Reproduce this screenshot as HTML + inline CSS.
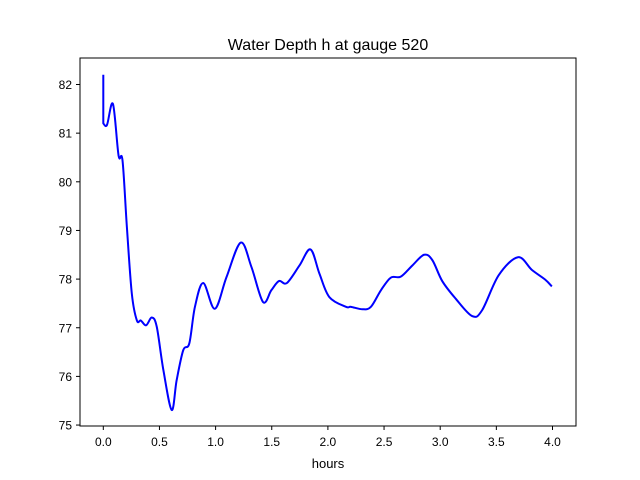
<!DOCTYPE html>
<html><head><meta charset="utf-8"><style>
body{margin:0;background:#fff;}
svg{display:block;font-family:"Liberation Sans","DejaVu Sans",sans-serif;}
</style></head><body>
<svg id="chart" width="640" height="480">
<rect width="640" height="480" fill="#fff"/>
<text x="328" y="50" text-anchor="middle" font-size="16">Water Depth h at gauge 520</text>
<g id="ticks"></g>
<path id="series" fill="none" stroke="#0000ff" stroke-width="2" stroke-linejoin="round"/>
<rect x="80" y="58" width="496" height="368" fill="none" stroke="#000" stroke-width="1"/>
<text x="328" y="468" text-anchor="middle" font-size="13">hours</text>
</svg>
<script>
const xTicks=[0,0.5,1.0,1.5,2.0,2.5,3.0,3.5,4.0];
const xTickLabels=["0.0","0.5","1.0","1.5","2.0","2.5","3.0","3.5","4.0"];
const yTicks=[75,76,77,78,79,80,81,82];
const yTickLabels=["75","76","77","78","79","80","81","82"];
const times=[0,0,0.033,0.086,0.136,0.171,0.21,0.254,0.299,0.334,0.381,0.432,0.476,0.535,0.609,0.653,0.712,0.766,0.816,0.89,0.993,1.097,1.224,1.319,1.422,1.496,1.564,1.635,1.747,1.845,1.925,2.013,2.161,2.205,2.309,2.383,2.472,2.56,2.649,2.752,2.856,2.93,3.018,3.137,3.284,3.373,3.521,3.692,3.816,3.935,3.994];
const depths=[82.2,81.2,81.17,81.6,80.54,80.44,79.07,77.7,77.15,77.15,77.05,77.21,77.02,76.13,75.31,75.92,76.54,76.68,77.43,77.92,77.39,78.04,78.75,78.25,77.53,77.77,77.96,77.92,78.28,78.61,78.11,77.63,77.43,77.43,77.38,77.43,77.77,78.03,78.05,78.28,78.5,78.39,77.96,77.6,77.24,77.36,78.08,78.45,78.19,77.99,77.85];
const X=t=>103.3+t*112.3;
const Y=h=>84.5+(82-h)*48.65;
const ns="http://www.w3.org/2000/svg";
const g=document.getElementById('ticks');
function mk(tag,attrs,txt){const e=document.createElementNS(ns,tag);for(const k in attrs)e.setAttribute(k,attrs[k]);if(txt!==undefined)e.textContent=txt;g.appendChild(e);return e;}
xTicks.forEach((t,i)=>{
 const l=mk('line',{x1:X(t),x2:X(t),y1:426,y2:430,stroke:'#000'});
 
 
 const tx=mk('text',{x:X(t),y:446,'text-anchor':'middle','font-size':'12'},xTickLabels[i]);
 
 
});
yTicks.forEach((v,i)=>{
 const l=mk('line',{x1:76,x2:80,y1:Y(v),y2:Y(v),stroke:'#000'});
 
 
 const tx=mk('text',{x:72,y:Y(v)+4.5,'text-anchor':'end','font-size':'12'},yTickLabels[i]);
 
 
});
const P=times.map((t,i)=>[X(t),Y(depths[i])]);
let d=`M${P[0][0]},${P[0][1]} L${P[1][0]},${P[1][1]}`;
for(let i=1;i<P.length-1;i++){
 const p0=P[Math.max(i-1,1)],p1=P[i],p2=P[i+1],p3=P[Math.min(i+2,P.length-1)];
 const c1=[p1[0]+(p2[0]-p0[0])/6,p1[1]+(p2[1]-p0[1])/6];
 const c2=[p2[0]-(p3[0]-p1[0])/6,p2[1]-(p3[1]-p1[1])/6];
 d+=` C${c1[0]},${c1[1]} ${c2[0]},${c2[1]} ${p2[0]},${p2[1]}`;
}
document.getElementById('series').setAttribute('d',d);
</script>
</body></html>
